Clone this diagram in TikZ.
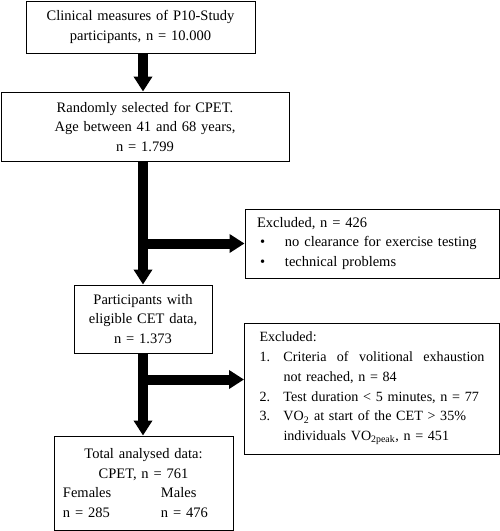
\documentclass[tikz,border=0pt]{standalone}
\usepackage{fontspec}
\setmainfont{Liberation Serif}
\usetikzlibrary{arrows.meta}
\usetikzlibrary{calc}

\tikzset{
  flowbox/.style={draw, line width=1pt, rectangle, inner ysep=0pt, font=\fontsize{14.5}{19.5}\selectfont},
  fatarrow/.style={line width=10pt, -{Triangle[width=18pt,length=15pt]}},
}

\begin{document}
\begin{tikzpicture}[x=1pt,y=-1pt]
\useasboundingbox (0,0) rectangle (500,531);

%Shape: Rectangle [id:box1]
\node (box1) [flowbox, minimum width=229pt, minimum height=52pt, text width=215pt, align=center] at (140.5,27) {Clinical measures of P10-Study\\participants, n = 10.000};
%Shape: Rectangle [id:box2]
\node (box2) [flowbox, minimum width=288pt, minimum height=69pt, text width=270pt, align=center] at (145,126.5) {Randomly selected for CPET.\\Age between 41 and 68 years,\\n = 1.799};
%Shape: Rectangle [id:box3]
\node (box3) [flowbox, minimum width=138pt, minimum height=68pt, text width=130pt, align=center] at (143,319) {Participants with\\eligible CET data,\\n = 1.373};
%Shape: Rectangle [id:box4]
\node (box4) [flowbox, minimum width=179pt, minimum height=94pt, inner xsep=9pt, text width=161pt, align=center] at (143.5,483) {Total analysed data:\\CPET, n = 761\\\makebox[161pt][l]{\makebox[98pt][l]{Females}Males}\\\makebox[161pt][l]{\makebox[98pt][l]{n = 285}n = 476}};

%Shape: Rectangle [id:excl1]
\node (excl1) [flowbox, minimum width=254pt, minimum height=69pt, inner xsep=12pt, text width=230pt, align=left] at (372,243.5) {Excluded, n = 426\\
\makebox[28pt][l]{\hspace{3pt}\textbullet}no clearance for exercise testing\\
\makebox[28pt][l]{\hspace{3pt}\textbullet}technical problems};
%Shape: Rectangle [id:excl2]
\node (excl2) [flowbox, font=\fontsize{14.1}{19.8}\selectfont, minimum width=254pt, minimum height=131pt, inner xsep=15pt, text width=225pt, align=left] at (372,388.5) {Excluded:\\
\makebox[24pt][l]{1.}\hbox to 201pt{Criteria\hfill of\hfill volitional\hfill exhaustion}\\
\makebox[24pt][l]{}\mbox{not reached, n = 84}\\
\makebox[24pt][l]{2.}\mbox{Test duration < 5 minutes, n = 77}\\
\makebox[24pt][l]{3.}\mbox{VO\textsubscript{2} at start of the CET > 35\%}\\
\makebox[24pt][l]{}\mbox{individuals VO\textsubscript{2peak}, n = 451}};

%Split points on the main line
\coordinate (split1) at (box3.north |- excl1.west);
\coordinate (split2) at ($(box3.south)+(0,26)$);

%Arrows
\draw [fatarrow] (box1.south -| box3.north) -- (box2.north -| box3.north);
\draw [fatarrow] (box2.south -| box3.north) -- (box3.north);
\draw [fatarrow] (split1) -- (excl1.west);
\draw [fatarrow] (box3.south) -- (box4.north -| box3.south);
\draw [fatarrow] (split2) -- (excl2.west |- split2);
\end{tikzpicture}
\end{document}
